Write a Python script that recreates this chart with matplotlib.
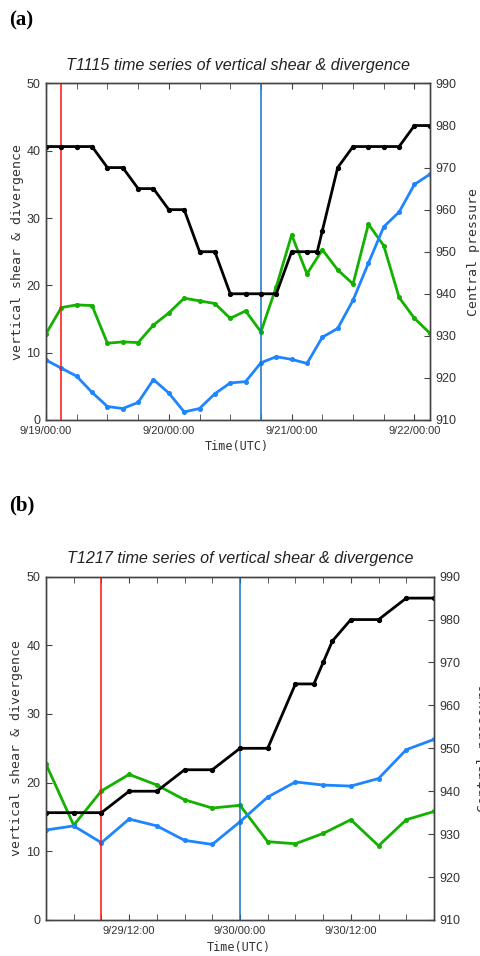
import numpy as np
import matplotlib.pyplot as plt

# ---- (a) T1115, hours since 9/19 00UTC ----
a_hours = [0, 3, 6, 9, 12, 15, 18, 21, 24, 27, 30, 33, 36, 39, 42, 45,
           48, 51, 54, 57, 60, 63, 66, 69, 72, 75]
a_green = [12.8, 16.7, 17.1, 17.0, 11.4, 11.6, 11.5, 14.1, 15.9, 18.1, 17.7,
           17.3, 15.1, 16.2, 13.1, 19.8, 27.5, 21.7, 25.3, 22.3, 20.2, 29.1,
           25.9, 18.2, 15.1, 12.9]
a_blue = [8.9, 7.7, 6.5, 4.1, 2.0, 1.7, 2.6, 6.0, 4.0, 1.2, 1.7, 3.9, 5.5,
          5.7, 8.5, 9.4, 9.0, 8.4, 12.3, 13.6, 17.8, 23.3, 28.7, 30.9, 35.0,
          36.5]
a_p_hours = [0, 3, 6, 9, 12, 15, 18, 21, 24, 27, 30, 33, 36, 39, 42, 45,
             48, 51, 53, 54, 57, 60, 63, 66, 69, 72, 75]
a_pres = [975, 975, 975, 975, 970, 970, 965, 965, 960, 960, 950, 950, 940,
          940, 940, 940, 950, 950, 950, 955, 970, 975, 975, 975, 975, 980, 980]
a_ticks = [0, 24, 48, 72]
a_ticklabels = ['9/19/00:00', '9/20/00:00', '9/21/00:00', '9/22/00:00']
a_red, a_blueline = 3, 42

# ---- (b) T1217, hours since 9/29 00UTC ----
b_hours = [3, 6, 9, 12, 15, 18, 21, 24, 27, 30, 33, 36, 39, 42, 45]
b_green = [22.7, 13.8, 18.8, 21.2, 19.65, 17.5, 16.3, 16.7, 11.4, 11.1, 12.6,
           14.6, 10.8, 14.6, 15.8]
b_blue = [13.1, 13.7, 11.25, 14.7, 13.7, 11.6, 11.0, 14.3, 17.9, 20.1, 19.65,
          19.5, 20.6, 24.8, 26.3]
b_p_hours = [3, 6, 9, 12, 15, 18, 21, 24, 27, 30, 32, 33, 34, 36, 39, 42, 45]
b_pres = [935, 935, 935, 940, 940, 945, 945, 950, 950, 965, 965, 970, 975,
          980, 980, 985, 985]
b_ticks = [12, 24, 36]
b_ticklabels = ['9/29/12:00', '9/30/00:00', '9/30/12:00']
b_red, b_blueline = 9, 24

GREEN = '#13b100'
BLUE = '#1f85ff'
SPINE = '#444444'
TXT = '#333333'

fig = plt.figure(figsize=(4.81, 9.56), dpi=100)


def panel(rect, title, hours, green, blue, phours, pres, xlim, ticks,
          ticklabels, minor_step, red_x, blue_x, rlabel_x):
    ax = fig.add_axes(rect)
    ax2 = ax.twinx()
    ax.plot(hours, green, color=GREEN, lw=2.0, marker='o', ms=2.6, zorder=3)
    ax.plot(hours, blue, color=BLUE, lw=2.0, marker='o', ms=2.6, zorder=3)
    ax2.plot(phours, pres, color='black', lw=2.0, marker='o', ms=2.8)
    ax.axvline(red_x, color='#ff1010', lw=1.1, zorder=4)
    ax.axvline(blue_x, color='#1273c9', lw=1.1, zorder=4)

    ax.set_xlim(*xlim)
    ax.set_ylim(0, 50)
    ax2.set_ylim(910, 990)
    ax.set_xticks(ticks)
    ax.set_xticklabels(ticklabels)
    ax.set_xticks(np.arange(xlim[0], xlim[1] + 0.1, minor_step), minor=True)
    ax.set_yticks(range(0, 51, 10))
    ax2.set_yticks(range(910, 991, 10))

    for a in (ax, ax2):
        for s in a.spines.values():
            s.set_color(SPINE)
            s.set_linewidth(1.0)
    ax.tick_params(axis='x', which='both', direction='in', top=True,
                   length=4, color=SPINE, labelsize=8, labelcolor=TXT, pad=4)
    ax.tick_params(axis='y', direction='in', length=4, color=SPINE,
                   labelsize=9, labelcolor=TXT, pad=4)
    ax2.tick_params(axis='y', direction='in', length=4, color=SPINE,
                    labelsize=9, labelcolor=TXT, pad=4)
    for lab in ax.get_xticklabels() + ax.get_yticklabels() + ax2.get_yticklabels():
        lab.set_family('Liberation Sans')

    ax.set_xlabel('Time(UTC)', family='DejaVu Sans Mono', fontsize=8.5,
                  color=TXT)
    ax.xaxis.set_label_coords(0.497, -0.061)
    ax.set_ylabel('vertical shear & divergence', family='DejaVu Sans Mono',
                  fontsize=9.5, color=TXT)
    ax.yaxis.set_label_coords(-0.058, 0.5)
    ax2.set_ylabel('Central pressure', family='DejaVu Sans Mono',
                   fontsize=9.5, color=TXT)
    ax2.yaxis.set_label_coords(rlabel_x, 0.5)
    ax.set_title(title, family='Liberation Sans', style='italic',
                 fontsize=11.6, color='#222222', pad=10)
    return ax


panel([0.0956, 0.5607, 0.798, 0.352],
      'T1115 time series of vertical shear & divergence',
      a_hours, a_green, a_blue, a_p_hours, a_pres, (0, 75), a_ticks,
      a_ticklabels, 6, a_red, a_blueline, 1.097)
panel([0.0956, 0.0377, 0.8067, 0.3591],
      'T1217 time series of vertical shear & divergence',
      b_hours, b_green, b_blue, b_p_hours, b_pres, (3, 45), b_ticks,
      b_ticklabels, 3, b_red, b_blueline, 1.112)

fig.text(0.02, 0.979, '(a)', family='Liberation Serif', weight='bold',
         fontsize=15, va='center')
fig.text(0.02, 0.471, '(b)', family='Liberation Serif', weight='bold',
         fontsize=15, va='center')

fig.savefig('out.png', dpi=100)
